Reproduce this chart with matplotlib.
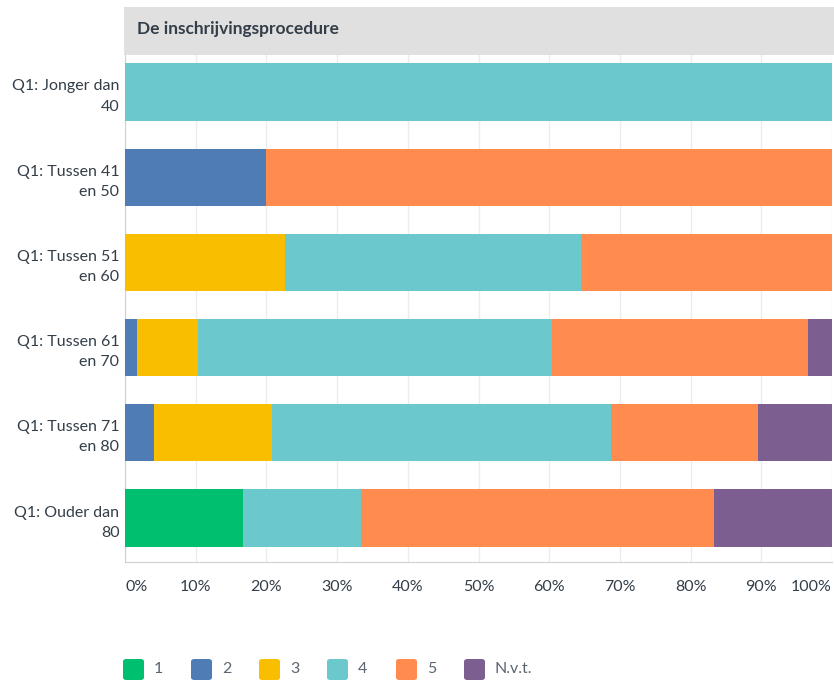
import numpy as np
import matplotlib.pyplot as plt
from matplotlib.patches import Rectangle, FancyBboxPatch

# groepen en antwoorden
groepen = ['Q1: Jonger dan\n40', 'Q1: Tussen 41\nen 50', 'Q1: Tussen 51\nen 60',
           'Q1: Tussen 61\nen 70', 'Q1: Tussen 71\nen 80', 'Q1: Ouder dan\n80']
antwoorden = ['1', '2', '3', '4', '5', 'N.v.t.']
kleuren = ['#00bf6f', '#507cb6', '#f9be00', '#6bc8cd', '#ff8b4f', '#7d5e90']

# percentages per antwoord (per groep)
p1 = [0, 0, 0, 0, 0, 16.67]
p2 = [0, 20.0, 0, 1.72, 4.17, 0]
p3 = [0, 0, 22.58, 8.62, 16.67, 0]
p4 = [100.0, 0, 41.94, 50.0, 47.92, 16.67]
p5 = [0, 80.0, 35.48, 36.21, 20.83, 50.0]
p_nvt = [0, 0, 0, 3.45, 10.42, 16.67]

ticks = [0, 10, 20, 30, 40, 50, 60, 70, 80, 90, 100]
tick_labels = ['%d%%' % t for t in ticks]

TXT = '#333e48'
plt.rcParams['font.family'] = ['Lato', 'DejaVu Sans']

fig = plt.figure(figsize=(8.34, 6.84), dpi=100)
ax = fig.add_axes([125 / 834, (684 - 562) / 684, 707 / 834, 507 / 684])

y = np.arange(len(groepen))
links = np.zeros(len(groepen))
for waarden, kleur, naam in zip([p1, p2, p3, p4, p5, p_nvt], kleuren, antwoorden):
    ax.barh(y, waarden, left=links, height=0.67, color=kleur, label=naam, zorder=3)
    links += np.array(waarden)

ax.set_xlim(0, 100)
ax.set_ylim(5.516, -0.434)
ax.set_yticks(y)
ax.set_yticklabels(groepen, fontsize=11.5, color=TXT, ha='right', linespacing=1.55)
ax.set_xticks(ticks)
ax.set_xticklabels(tick_labels, fontsize=11.5, color=TXT)
lbls = ax.get_xticklabels()
lbls[0].set_ha('left')
lbls[-1].set_ha('right')
ax.tick_params(axis='both', length=0)
ax.tick_params(axis='x', pad=13)
ax.tick_params(axis='y', pad=4)
ax.grid(axis='x', color='#ececec', linewidth=1, zorder=0)
for s in ['top', 'right']:
    ax.spines[s].set_visible(False)
ax.spines['left'].set_color('#d0d0d0')
ax.spines['bottom'].set_color('#d0d0d0')

# grijze kop
fig.patches.append(Rectangle((124 / 834, (684 - 55) / 684), 710 / 834, 48 / 684,
                             transform=fig.transFigure, facecolor='#e0e0e0',
                             edgecolor='none', zorder=0))
fig.text(137 / 834, (684 - 29) / 684, 'De inschrijvingsprocedure', fontsize=12.5,
         fontweight='bold', color=TXT, va='center', ha='left')

# legenda
lx = [122, 190, 258, 326, 395, 463]
for x0, kleur, naam in zip(lx, kleuren, antwoorden):
    fig.patches.append(FancyBboxPatch(((x0 + 1) / 834, (684 - 680) / 684), 21 / 834, 21 / 684,
                                      boxstyle='round,pad=0,rounding_size=0.004',
                                      transform=fig.transFigure, facecolor=kleur,
                                      edgecolor='none'))
    fig.text((x0 + 32) / 834, (684 - 669) / 684, naam, fontsize=11.5, color='#5a6570',
             va='center', ha='left')

fig.savefig('out.png', dpi=100)
